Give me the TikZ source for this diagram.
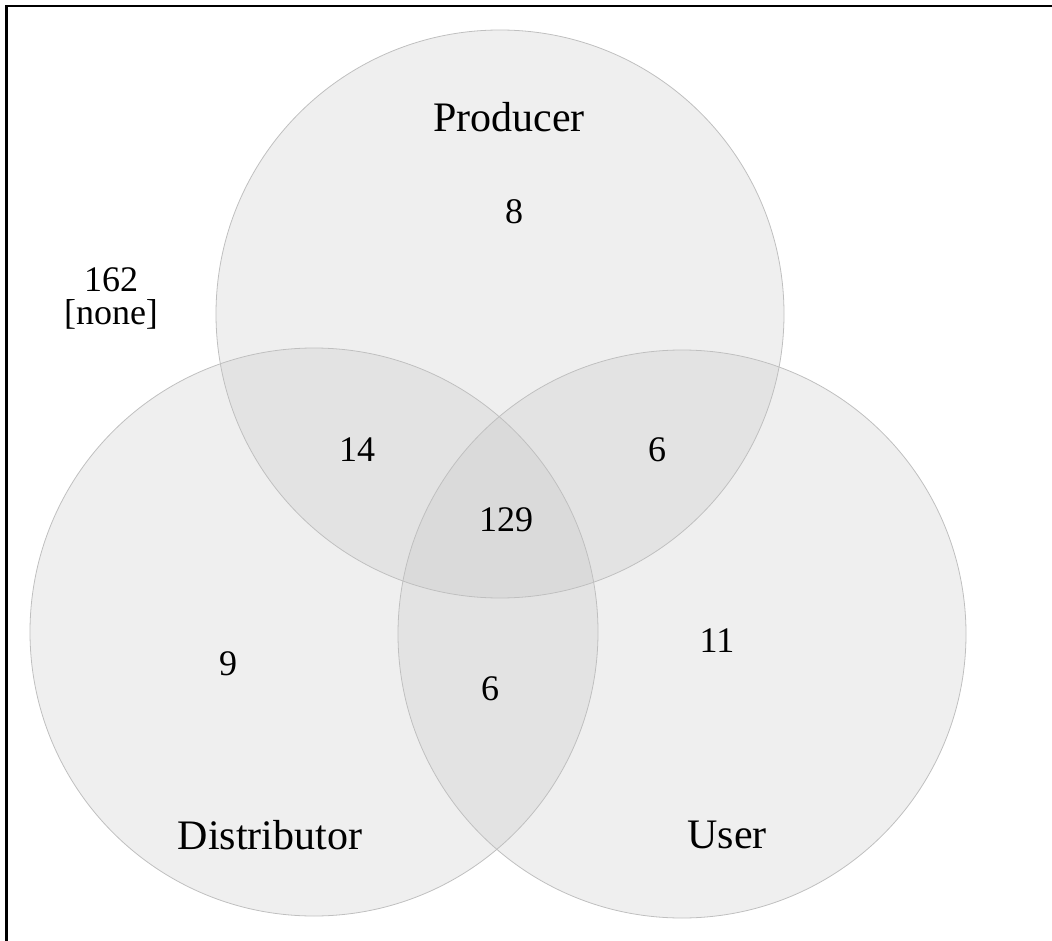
\documentclass[tikz,border=0pt]{standalone}
\usepackage{fontspec}
\setmainfont{Liberation Serif}
\usepackage{tikz}

\definecolor{setgray}{RGB}{191,191,191}
\tikzset{
  venn/.style={fill=setgray,fill opacity=.25,draw=setgray,draw opacity=1,line width=.8pt},
  setname/.style={font=\fontsize{42}{48}\selectfont},
  count/.style={font=\fontsize{36}{38}\selectfont,align=center}
}

\begin{document}
\begin{tikzpicture}[x=1pt,y=-1pt]
      \useasboundingbox (0,0) rectangle (1052,941);
      % frame, top and left only
      \draw[line width=2.2pt] (6.5,941) -- (6.5,5.8) -- (1052,5.8);
      % the three sets
      \draw[venn] (500,314) circle[radius=284];
      \draw[venn] (314,632) circle[radius=284];
      \draw[venn] (682,634) circle[radius=284];
      % set names
      \node[setname] (producer) at (509,117) {Producer};
      \node[setname] (distributor) at (270,835) {Distributor};
      \node[setname] (user) at (727,835) {User};
      % counts
      \node[count] (none) at (111,298) {162\\[-5pt][none]};
      \node[count] (p) at (514,212) {8};
      \node[count] (d) at (228,664) {9};
      \node[count] (u) at (717,641) {11};
      \node[count] (pd) at (357,450) {14};
      \node[count] (pu) at (657,450) {6};
      \node[count] (du) at (490,689) {6};
      \node[count] (pdu) at (506,520) {129};
    \end{tikzpicture}
\end{document}
